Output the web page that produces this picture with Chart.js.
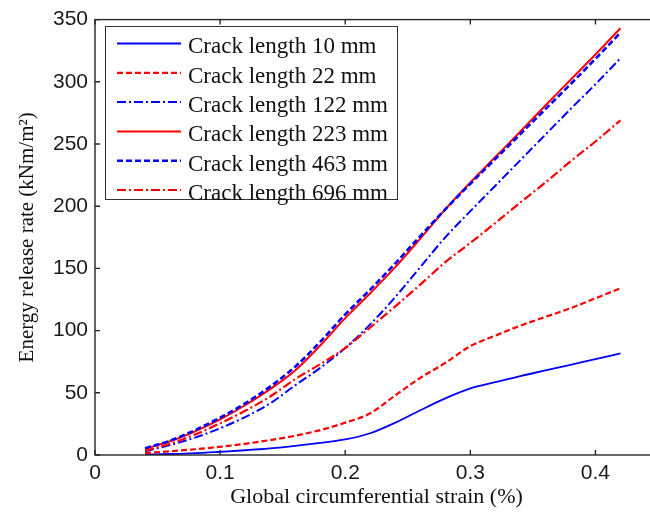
<!DOCTYPE html>
<html>
<head>
<meta charset="utf-8">
<script src="https://cdn.jsdelivr.net/npm/chart.js@4.4.1/dist/chart.umd.min.js"></script>
<style>
  html, body { margin: 0; padding: 0; background: #fff; overflow: hidden; }
  #wrap { position: relative; width: 665px; height: 515px; }
</style>
</head>
<body>
<div id="wrap"><canvas id="c"></canvas></div>
<script>
// ---- data ----
const strain = [0.04, 0.06, 0.08, 0.10, 0.12, 0.14, 0.16, 0.18, 0.20, 0.22, 0.24, 0.26, 0.28, 0.30, 0.32, 0.34, 0.36, 0.38, 0.40, 0.42];
const g10  = [0.3, 0.8, 1.5, 2.6, 3.8, 5.3, 7.3, 9.7, 12.5, 17.5, 26, 36, 45.5, 53.5, 58.5, 63.5, 68, 72.5, 77, 81.7];
const g22  = [1.5, 3, 4.6, 6.6, 9, 12, 15.5, 20, 26, 33.5, 48, 62, 74, 87.5, 96, 104, 111, 118, 126, 134];
const g122 = [3, 8, 14, 21.5, 30.5, 41.5, 56, 70, 86, 105, 127, 151, 175, 196, 216.5, 237, 257.5, 278, 298, 319];
const g223 = [5, 11, 19, 28.6, 40, 53, 68, 88, 110, 130, 151, 174, 197.5, 219, 239.5, 260, 281, 301.5, 322, 343];
const g463 = [5.5, 11.5, 20, 30, 41.5, 55, 71, 91, 113, 133, 154, 176, 197.5, 218, 238, 258, 278, 298, 318.5, 339.5];
const g696 = [3.5, 9, 16.5, 25.5, 35.5, 47, 61, 73, 86, 102.5, 119.5, 137, 155, 170.5, 186.5, 203, 219, 236, 252, 269];
const crackLabels = ['Crack length 10 mm', 'Crack length 22 mm', 'Crack length 122 mm', 'Crack length 223 mm', 'Crack length 463 mm', 'Crack length 696 mm'];
const xTicks = [0, 0.1, 0.2, 0.3, 0.4];
const xTickLabels = ['0', '0.1', '0.2', '0.3', '0.4'];
const yTicks = [0, 50, 100, 150, 200, 250, 300, 350];
const xTitle = 'Global circumferential strain (%)';
const yTitle = 'Energy release rate (kNm/m\u00B2)';

// ---- styles ----
const BLUE = '#0000ff', RED = '#ff0000';
const seriesValues = [g10, g22, g122, g223, g463, g696];
const styles = [
  { color: BLUE, dash: [], width: 1.8 },
  { color: RED, dash: [6, 3], width: 2.2 },
  { color: BLUE, dash: [9, 3, 2, 3], width: 2 },
  { color: RED, dash: [], width: 2 },
  { color: BLUE, dash: [6, 3], width: 2.6 },
  { color: RED, dash: [9, 3, 2, 3], width: 2.2 }
];

const datasets = seriesValues.map((vals, i) => ({
  label: crackLabels[i],
  data: strain.map((x, k) => ({ x: x, y: vals[k] })),
  borderColor: styles[i].color,
  backgroundColor: styles[i].color,
  borderDash: styles[i].dash,
  borderWidth: styles[i].width,
  pointRadius: 0,
  fill: false,
  cubicInterpolationMode: 'monotone',
  order: 10 - i
}));

const FRAME = '#262626';
const framePlugin = {
  id: 'frame',
  afterDatasetsDraw(chart) {
    const { ctx, chartArea: a, scales: { x, y } } = chart;
    ctx.save();
    ctx.strokeStyle = FRAME;
    ctx.lineWidth = 1.4;
    ctx.strokeRect(a.left, a.top, a.right - a.left, a.bottom - a.top);
    ctx.beginPath();
    xTicks.forEach(v => {
      const px = x.getPixelForValue(v);
      ctx.moveTo(px, a.bottom); ctx.lineTo(px, a.bottom - 5);
      ctx.moveTo(px, a.top); ctx.lineTo(px, a.top + 5);
    });
    yTicks.forEach(v => {
      const py = y.getPixelForValue(v);
      ctx.moveTo(a.left, py); ctx.lineTo(a.left + 5, py);
      ctx.moveTo(a.right, py); ctx.lineTo(a.right - 5, py);
    });
    ctx.stroke();
    ctx.restore();
  },
  afterDraw(chart) {
    const { ctx } = chart;
    ctx.save();
    const bx = 105.5, by = 26.5, bw = 292, bh = 173;
    ctx.fillStyle = '#fff';
    ctx.fillRect(bx, by, bw, bh);
    ctx.strokeStyle = '#333';
    ctx.lineWidth = 1;
    ctx.strokeRect(bx, by, bw, bh);
    chart.data.datasets.forEach((ds, i) => {
      const ly = 43.5 + i * 29.3;
      ctx.beginPath();
      ctx.strokeStyle = ds.borderColor;
      ctx.lineWidth = ds.borderWidth;
      ctx.setLineDash(ds.borderDash);
      ctx.moveTo(117, ly); ctx.lineTo(181, ly);
      ctx.stroke();
      ctx.setLineDash([]);
      ctx.fillStyle = '#111';
      ctx.font = '23px "Liberation Serif", "Times New Roman", serif';
      ctx.textBaseline = 'alphabetic';
      ctx.textAlign = 'left';
      ctx.fillText(ds.label, 188, 53.3 + i * 29.3);
    });
    ctx.restore();
  }
};

new Chart(document.getElementById('c'), {
  type: 'line',
  data: { datasets: datasets },
  options: {
    responsive: true,
    maintainAspectRatio: false,
    animation: false,
    events: [],
    layout: { padding: { top: 15, right: 7, left: 0, bottom: 0 } },
    plugins: { legend: { display: false }, tooltip: { enabled: false } },
    scales: {
      x: {
        type: 'linear',
        min: 0, max: 0.45,
        grid: { display: false, drawTicks: false },
        border: { display: false },
        afterBuildTicks: s => { s.ticks = xTicks.map(v => ({ value: v })); },
        afterFit: s => { s.height = 60; },
        ticks: {
          padding: 6,
          color: '#1a1a1a',
          maxRotation: 0,
          font: { family: '"Liberation Sans", Arial, sans-serif', size: 21 },
          callback: v => xTickLabels[xTicks.findIndex(t => Math.abs(t - v) < 1e-9)]
        },
        title: {
          display: true, text: xTitle, color: '#111',
          font: { family: '"Liberation Serif", "Times New Roman", serif', size: 22 },
          padding: { top: 0, bottom: 5 }
        }
      },
      y: {
        type: 'linear',
        min: 0, max: 350,
        grid: { display: false, drawTicks: false },
        border: { display: false },
        afterBuildTicks: s => { s.ticks = yTicks.map(v => ({ value: v })); },
        afterFit: s => { s.width = 95; },
        ticks: {
          padding: 7,
          color: '#1a1a1a',
          font: { family: '"Liberation Sans", Arial, sans-serif', size: 21 },
          callback: v => String(v)
        },
        title: {
          display: true, text: yTitle, color: '#111',
          font: { family: '"Liberation Serif", "Times New Roman", serif', size: 21 },
          padding: { top: 15, bottom: 0 }
        }
      }
    }
  },
  plugins: [framePlugin]
});
</script>
</body>
</html>
